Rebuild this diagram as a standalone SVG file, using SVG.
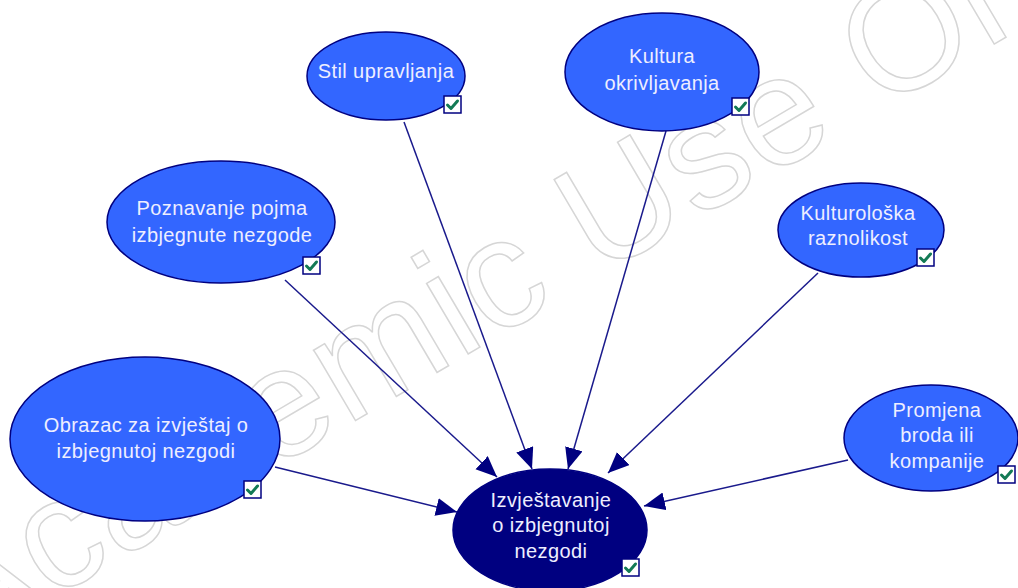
<svg xmlns="http://www.w3.org/2000/svg" width="1018" height="588" viewBox="0 0 1018 588">
<defs>
<style>
.wm{font-family:"Liberation Sans",Arial,sans-serif;font-size:155px;letter-spacing:2px;fill:none;stroke:#d6d6d6;stroke-width:1.5}
.n{fill:#3366ff;stroke:#000080;stroke-width:1.5}
.d{fill:#000080;stroke:#000080;stroke-width:1.5}
.t{font-family:"Liberation Sans",Arial,sans-serif;font-size:20px;letter-spacing:0.4px;fill:#eeeeff;text-anchor:middle}
.cb{fill:#ffffff;stroke:#000080;stroke-width:1.5}
.ck{fill:none;stroke:#137a55;stroke-width:3;stroke-linecap:round;stroke-linejoin:round}
.e{stroke:#1a1a8c;stroke-width:1.5;fill:none;marker-end:url(#ah)}
</style>
<marker id="ah" markerUnits="userSpaceOnUse" markerWidth="24" markerHeight="20" refX="21" refY="9" orient="auto">
<path d="M0,0 L21,9 L0,18 z" fill="#000080"/>
</marker>
<g id="chk">
<rect class="cb" x="0" y="0" width="17" height="17"/>
<path class="ck" d="M3.5,9 L7,12.5 L13.5,5"/>
</g>
</defs>
<rect width="1018" height="588" fill="#ffffff"/>
<text class="wm" x="560" y="300" text-anchor="middle" transform="rotate(-30.5 560 300)">Academic Use Only</text>
<g id="connectors">
<line class="e" x1="404" y1="122" x2="532" y2="469"/>
<line class="e" x1="666" y1="131" x2="568" y2="469"/>
<line class="e" x1="285" y1="280" x2="497" y2="477"/>
<line class="e" x1="818" y1="273" x2="608" y2="473"/>
<line class="e" x1="275" y1="467" x2="457" y2="512"/>
<line class="e" x1="848" y1="460" x2="644" y2="506"/>
</g>
<g id="stil">
<ellipse class="n" cx="386" cy="76" rx="79" ry="44"/>
<text class="t" x="386" y="78">Stil upravljanja</text>
<use href="#chk" x="444" y="96"/>
</g>
<g id="kultura">
<ellipse class="n" cx="662" cy="72" rx="97" ry="59"/>
<text class="t" x="662" y="63">Kultura</text>
<text class="t" x="662" y="90">okrivljavanja</text>
<use href="#chk" x="732" y="98"/>
</g>
<g id="poznavanje">
<ellipse class="n" cx="221" cy="222" rx="114" ry="61"/>
<text class="t" x="222" y="215">Poznavanje pojma</text>
<text class="t" x="222" y="242">izbjegnute nezgode</text>
<use href="#chk" x="303" y="257"/>
</g>
<g id="kulturoloska">
<ellipse class="n" cx="861" cy="230" rx="83" ry="47"/>
<text class="t" x="858" y="220">Kulturološka</text>
<text class="t" x="858" y="245">raznolikost</text>
<use href="#chk" x="917" y="249"/>
</g>
<g id="obrazac">
<ellipse class="n" cx="145" cy="439" rx="135" ry="82"/>
<text class="t" x="146" y="432">Obrazac za izvještaj o</text>
<text class="t" x="146" y="458">izbjegnutoj nezgodi</text>
<use href="#chk" x="244" y="481"/>
</g>
<g id="promjena">
<ellipse class="n" cx="931" cy="438" rx="87" ry="53"/>
<text class="t" x="937" y="417">Promjena</text>
<text class="t" x="937" y="442">broda ili</text>
<text class="t" x="937" y="468">kompanije</text>
<use href="#chk" x="998" y="466"/>
</g>
<g id="izvjestavanje">
<ellipse class="d" cx="550" cy="530" rx="97" ry="61"/>
<text class="t" x="551" y="507">Izvještavanje</text>
<text class="t" x="551" y="532">o izbjegnutoj</text>
<text class="t" x="551" y="558">nezgodi</text>
<use href="#chk" x="622" y="559"/>
</g>
</svg>
